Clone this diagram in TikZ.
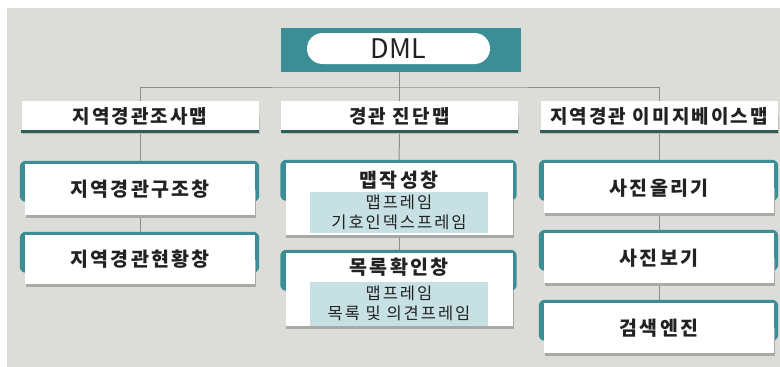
\documentclass[tikz,border=0pt]{standalone}
\usepackage{fontspec}
\setmainfont{Noto Sans CJK KR}
\newfontfamily\titlefont{Noto Sans CJK KR}[LetterSpace=11]
\newfontfamily\innerfont{Noto Sans CJK KR}[LetterSpace=12]
\newfontfamily\dmlfont{Noto Sans CJK KR}[LetterSpace=2]
\definecolor{panel}{HTML}{DCDCD8}
\definecolor{tealc}{HTML}{3B8E96}
\definecolor{greenline}{HTML}{2F5E57}
\definecolor{innerblue}{HTML}{C6E0E4}
\definecolor{connc}{HTML}{8C8C8C}
\definecolor{shadowc}{HTML}{A9A9A6}
\definecolor{textc}{HTML}{222222}
\pgfdeclarelayer{bg}
\pgfdeclarelayer{lines}
\pgfsetlayers{bg,lines,main}
\begin{document}
\begin{tikzpicture}[x=1pt,y=-1pt,
  headbox/.style={fill=white, minimum width=237pt, minimum height=30pt, inner sep=0pt, font=\titlefont\bfseries\fontsize{19}{22}\selectfont, text=textc},
  winbox/.style={fill=white, minimum width=230pt, inner sep=0pt, font=\titlefont\bfseries\fontsize{19.5}{24}\selectfont, text=textc},
  midbox/.style={fill=white, minimum width=227pt, inner sep=0pt},
  wintitle/.style={inner sep=0pt, font=\titlefont\bfseries\fontsize{19.5}{24}\selectfont, text=textc},
  framebox/.style={fill=innerblue, minimum width=178pt, inner sep=0pt, align=center, font=\innerfont\fontsize{16.5}{20.5}\selectfont, text=textc},
  conn/.style={draw=connc, line width=1pt},
  backing/.style={fill=tealc, rounded corners=6pt},
]
\useasboundingbox (0,0) rectangle (780,367);
\begin{pgfonlayer}{bg}
\fill[white] (0,0) rectangle (780,367);
\fill[panel] (7,8) rectangle (780,367);
\end{pgfonlayer}

% DML header
\node[fill=tealc, minimum width=240pt, minimum height=44pt, inner sep=0pt] (dmlbar) at (401,50) {};
\node[fill=white, rounded corners=15.5pt, minimum width=183pt, minimum height=31pt, inner sep=0pt, font=\dmlfont\fontsize{27}{30}\selectfont, text=textc] (dml) at (398.5,48.5) {DML};

% level 1
\node[headbox] (hL) at (140,116) {지역경관조사맵};
\node[headbox] (hM) at (399.5,116) {경관 진단맵};
\node[headbox] (hR) at (659,116) {지역경관 이미지베이스맵};
\foreach \n in {hL,hM,hR}
  \draw[line width=3pt, greenline] (\n.south west) -- (\n.south east);

% left column
\node[winbox, minimum height=51pt] (lA) at (140,189.5) {지역경관구조창};
\node[winbox, minimum height=49pt] (lB) at (140,259.5) {지역경관현황창};

% right column
\node[winbox, minimum height=50pt] (rA) at (659,188) {사진올리기};
\node[winbox, minimum height=50pt] (rB) at (659,258) {사진보기};
\node[winbox, minimum height=50pt] (rC) at (659,328) {검색엔진};

% middle column
\node[midbox, minimum height=72pt] (mA) at (399,199) {};
\node[wintitle] (mAt) at (399,180) {맵작성창};
\node[framebox, minimum height=41pt] (mAf) at (399,212.5) {맵프레임\\기호인덱스프레임};
\node[midbox, minimum height=73pt] (mB) at (399,289.5) {};
\node[wintitle] (mBt) at (399,267) {목록확인창};
\node[framebox, minimum height=44pt] (mBf) at (399,303.5) {맵프레임\\목록 및 의견프레임};

\coordinate (bus) at (399.5,87);

\begin{pgfonlayer}{lines}
\draw[conn] (dmlbar.south -| hM.north) -- (hM.north);
\draw[conn] (hL.north) |- (bus) -| (hR.north);
\draw[conn] (hL.south) -- (lA.north);
\draw[conn] (lA.south) -- (lB.north);
\draw[conn] (hM.south) -- (mA.north);
\draw[conn] (mA.south) -- (mB.north);
\draw[conn] (hR.south) -- (rA.north);
\draw[conn] (rA.south) -- (rB.north);
\draw[conn] (rB.south) -- (rC.north);
\foreach \n in {lA,lB,rA,rB,rC,mA,mB}{
  \fill[backing] ([xshift=-5pt,yshift=3pt]\n.north west) rectangle ([xshift=4pt,yshift=-38pt]\n.north east);
  \fill[shadowc] ([xshift=1pt,yshift=-2.5pt]\n.south west) rectangle ([xshift=1pt]\n.east);
}
\foreach \n in {hL,hM,hR}
  \fill[shadowc!60!panel] ([xshift=1pt,yshift=-2.5pt]\n.south west) rectangle ([xshift=1pt]\n.east);
\end{pgfonlayer}
\end{tikzpicture}
\end{document}
